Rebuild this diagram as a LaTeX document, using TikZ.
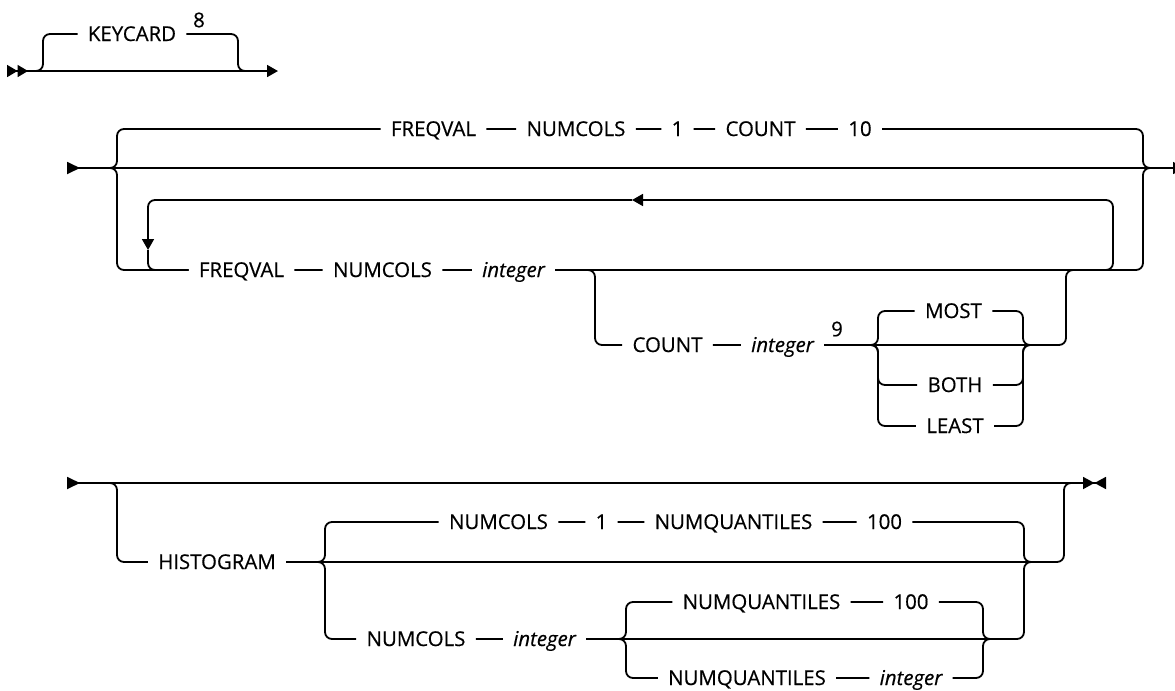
\documentclass[tikz,border=0pt]{standalone}
\usepackage{fontspec}
\setsansfont{Open Sans}[FakeBold=0.5]
\usetikzlibrary{arrows.meta}

\tikzset{
  kw/.style={font=\sffamily\fontsize{10.2}{12}\selectfont, inner xsep=5pt, inner ysep=0pt, text height=7pt, text depth=0pt},
  var/.style={kw, font=\sffamily\itshape\fontsize{10.2}{12}\selectfont},
  note/.style={font=\sffamily\fontsize{10.2}{12}\selectfont, inner sep=0pt},
  rr/.style={line width=0.9pt, rounded corners=3.5pt},
  >={Triangle[length=5.5pt,width=6pt]},
}

\begin{document}
\begin{tikzpicture}[x=0.5pt, y=-0.5pt]
  \useasboundingbox (0,0) rectangle (1175,691);

  % --- KEYCARD
  \coordinate (s1) at (7,71);
  \coordinate (e1) at (278,71);
  \coordinate (b1) at (43,71);
  \coordinate (m1) at (238,71);
  \node[kw] (kcard) at (132,34) {KEYCARD};
  \node[note] (n8) at (199,20) {8};
  \draw[rr, {Triangle[length=5.25pt,width=6pt,reversed]Triangle[length=5.25pt,width=6pt,reversed]}->] (s1) -- (e1);
  \draw[rr] ([xshift=-4pt]b1) -| (b1 |- kcard) -- (kcard);
  \draw[rr] (kcard) -| (m1) -- ++(8,0);

  % --- FREQVAL
  \coordinate (s2) at (67,168);
  \coordinate (e2) at (1184,168);
  \coordinate (b2l) at (117,168);
  \coordinate (b2r) at (1143,168);
  \node[kw] (fv1) at (433.5,129) {FREQVAL};
  \node[kw] (nc1) at (576,129) {NUMCOLS};
  \node[kw] (one1) at (677.5,129) {1};
  \node[kw] (cnt1) at (760.5,129) {COUNT};
  \node[kw] (ten1) at (860,129) {10};
  \node[kw] (fv2) at (241.5,270) {FREQVAL};
  \node[kw] (nc2) at (382.5,270) {NUMCOLS};
  \node[var] (int2) at (513.5,270) {integer};
  \draw[rr, {Triangle[length=6.5pt,width=6pt,reversed]}->] (s2) -- (e2);
  \draw[rr] ([xshift=-4pt]b2l) -| (b2l |- fv1) -- (fv1) -- (nc1) -- (one1) -- (cnt1) -- (ten1) -| (b2r) -- ++(8,0);
  \draw[rr] ([xshift=-4pt]b2l) -| (b2l |- fv2) -- (fv2) -- (nc2) -- (int2) -| (b2r) -- ++(8,0);

  % repeat loop
  \coordinate (lpb) at (1100,270);
  \coordinate (lpr) at (1113,200);
  \coordinate (lpa) at (632,200);
  \coordinate (lpd) at (148,250);
  \draw[rr, ->] (lpb) -| (lpr) -- (lpa);
  \draw[rr, ->] (lpa) -| (lpd);
  \draw[rr] (lpd) |- (fv2);

  % COUNT ... 9
  \coordinate (b3) at (595,270);
  \coordinate (b8r) at (1066,270);
  \coordinate (b9l) at (878,345);
  \coordinate (b9r) at (1023,345);
  \node[kw] (cnt3) at (667.5,345) {COUNT};
  \node[var] (int3) at (782.5,345) {integer};
  \node[note] (n9) at (837,329) {9};
  \node[kw] (most) at (953.5,311) {MOST};
  \node[kw] (both) at (955,385) {BOTH};
  \node[kw] (least) at (955,426) {LEAST};
  \draw[rr] ([xshift=-4pt]b3) -| (b3 |- cnt3) -- (cnt3) -- (int3) -- (b9r) -| (b8r) -- ++(8,0);
  \foreach \n in {most,both,least}{
    \draw[rr] ([xshift=-4pt]b9l) -| (b9l |- \n) -- (\n);
    \draw[rr] (\n) -| (b9r) -- ++(8,0);
  }

  % --- HISTOGRAM
  \coordinate (s3) at (67,483);
  \coordinate (e3) at (1106,483);
  \coordinate (b4) at (117,483);
  \coordinate (b4r) at (1064,483);
  \coordinate (b5l) at (325,562);
  \coordinate (b5r) at (1024,562);
  \coordinate (b6l) at (626,639);
  \coordinate (b6r) at (983,639);
  \node[kw] (hist) at (217,562) {HISTOGRAM};
  \node[kw] (nc4) at (498.5,522) {NUMCOLS};
  \node[kw] (one4) at (601.5,522) {1};
  \node[kw] (nq4) at (733.5,522) {NUMQUANTILES};
  \node[kw] (h4) at (884.5,522) {100};
  \node[kw] (nc5) at (416,639) {NUMCOLS};
  \node[var] (int5) at (544.5,639) {integer};
  \node[kw] (nq6) at (761.5,602) {NUMQUANTILES};
  \node[kw] (h6) at (911,602) {100};
  \node[kw] (nq7) at (747,678) {NUMQUANTILES};
  \node[var] (int7) at (911,678) {integer};
  \draw[rr, {Triangle[length=6.5pt,width=6pt,reversed]}-{Triangle[length=5.75pt,width=6pt]Triangle[length=5.75pt,width=6pt,reversed]}] (s3) -- (e3);
  \draw[rr] ([xshift=-4pt]b4) -| (b4 |- hist) -- (hist) -- (b5r) -| (b4r) -- ++(8,0);
  \draw[rr] ([xshift=-4pt]b5l) -| (b5l |- nc4) -- (nc4) -- (one4) -- (nq4) -- (h4) -| (b5r) -- ++(8,0);
  \draw[rr] ([xshift=-4pt]b5l) -| (b5l |- nc5) -- (nc5) -- (int5) -- (b6r) -| (b5r) -- ++(8,0);
  \draw[rr] ([xshift=-4pt]b6l) -| (b6l |- nq6) -- (nq6) -- (h6) -| (b6r) -- ++(8,0);
  \draw[rr] ([xshift=-4pt]b6l) -| (b6l |- nq7) -- (nq7) -- (int7) -| (b6r) -- ++(8,0);
\end{tikzpicture}
\end{document}
